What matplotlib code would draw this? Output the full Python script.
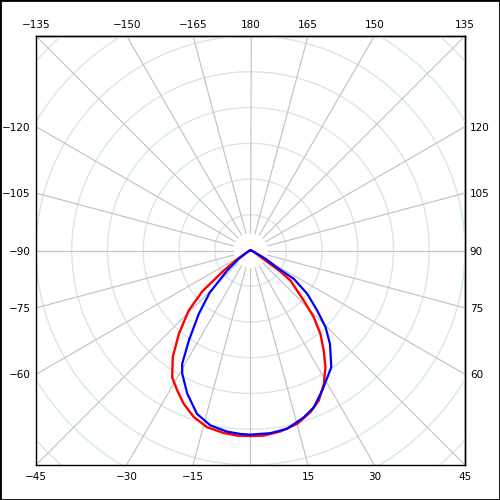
import numpy as np
import matplotlib.pyplot as plt

# polar intensity data, angle 0 = straight down
red_angles = [-90, -75, -62, -57, -53.2, -49.7, -45.8, -40.7, -36.1, -31.7, -27.6, -23.5, -18.8, -13.8, -8.3, -4.1, 0,
              4.1, 9.4, 15.1, 20.4, 24.5, 28.8, 32.7, 36.2, 40.0, 43.5, 46.8, 53.1, 55.0, 56.3, 62, 70, 80, 90]
red_vals = [0, 0.04, 0.12, 0.4, 0.93, 1.77, 2.41, 3.07, 3.69, 4.17, 4.42, 4.68, 4.92, 5.09, 5.16, 5.19, 5.19,
            5.19, 5.13, 5.02, 4.82, 4.61, 4.26, 3.88, 3.47, 3.04, 2.57, 2.04, 1.40, 1.0, 0.5, 0.15, 0.07, 0.03, 0]

blue_angles = [-90, -75, -62, -55, -49.4, -44.0, -39.2, -34.4, -31.1, -29.0, -23.8, -18.1, -12.9, -7.3, -3.1, 0,
               6.2, 11.6, 17.7, 22.0, 27.1, 32.5, 34.7, 40.4, 44.4, 48.0, 52.6, 56.8, 57.1, 61, 70, 80, 90]
blue_vals = [0, 0.04, 0.12, 0.4, 0.86, 1.65, 2.29, 3.05, 3.70, 3.94, 4.38, 4.81, 5.02, 5.11, 5.14, 5.15,
             5.14, 5.09, 4.90, 4.73, 4.40, 4.08, 3.97, 3.43, 3.00, 2.51, 2.00, 1.45, 0.94, 0.48, 0.1, 0.04, 0]

ring_radii = [1, 2, 3, 4, 5, 6, 7, 8, 9]
spoke_angles = np.arange(0, 360, 15)
bottom_labels = [-45, -30, -15, 0, 15, 30, 45]
top_labels = [-135, -150, -165, 180, 165, 150, 135]
left_labels = [-120, -105, -90, -75, -60]
right_labels = [120, 105, 90, 75, 60]

R = 6.0


def to_xy(theta_deg, r):
    t = np.radians(theta_deg)
    r = np.asarray(r, dtype=float)
    return r * np.sin(t), -r * np.cos(t)


def fmt(v):
    return str(v).replace('-', '\u2212')


fig = plt.figure(figsize=(5, 5), dpi=100)
ax = fig.add_axes([0.072, 0.07, 0.858, 0.858])
ax.set_xlim(-R, R)
ax.set_ylim(-R, R)
ax.set_aspect('equal')

# grid rings
tt = np.linspace(0, 360, 721)
for rr in ring_radii:
    x, y = to_xy(tt, np.full_like(tt, rr))
    ax.plot(x, y, color='#d2e8ef', lw=1, zorder=1)

# spokes
for a in spoke_angles:
    x, y = to_xy(np.array([a, a]), [0.5, 10])
    ax.plot(x, y, color='#c6c6c6', lw=0.9, zorder=2)

x, y = to_xy(np.array(red_angles), red_vals)
ax.plot(x, y, color='#ff0000', lw=1.7, zorder=3)
x, y = to_xy(np.array(blue_angles), blue_vals)
ax.plot(x, y, color='#0000ff', lw=1.6, zorder=4)

# tick labels where the spokes meet the frame
bt = np.radians(bottom_labels)
ax.set_xticks(R * np.tan(bt))
ax.set_xticklabels(['' if v == 0 else fmt(v) for v in bottom_labels])
lt = np.radians(left_labels)
ax.set_yticks(R * (-np.cos(lt)) / np.abs(np.sin(lt)))
ax.set_yticklabels([fmt(v) for v in left_labels])
ax.tick_params(axis='x', length=0, pad=5, labelsize=7.5)
ax.tick_params(axis='y', length=0, pad=4, labelsize=7.5)

ax2 = ax.secondary_xaxis('top')
ax2.set_xticks(R * np.tan(bt))
ax2.set_xticklabels([fmt(v) for v in top_labels])
ax2.tick_params(length=0, pad=4, labelsize=7.5)

ax3 = ax.secondary_yaxis('right')
ax3.set_yticks(R * (-np.cos(lt)) / np.abs(np.sin(lt)))
ax3.set_yticklabels([fmt(v) for v in right_labels])
ax3.tick_params(length=0, pad=3.5, labelsize=7.5)

for s in ax.spines.values():
    s.set_linewidth(1.0)
ax2.spines['top'].set_linewidth(1.0)
ax3.spines['right'].set_linewidth(1.0)

fig.patches.append(plt.Rectangle((0, 0), 1, 1, transform=fig.transFigure,
                                 fill=False, edgecolor='black', lw=2))

fig.savefig('out.png', dpi=100, facecolor='white')
